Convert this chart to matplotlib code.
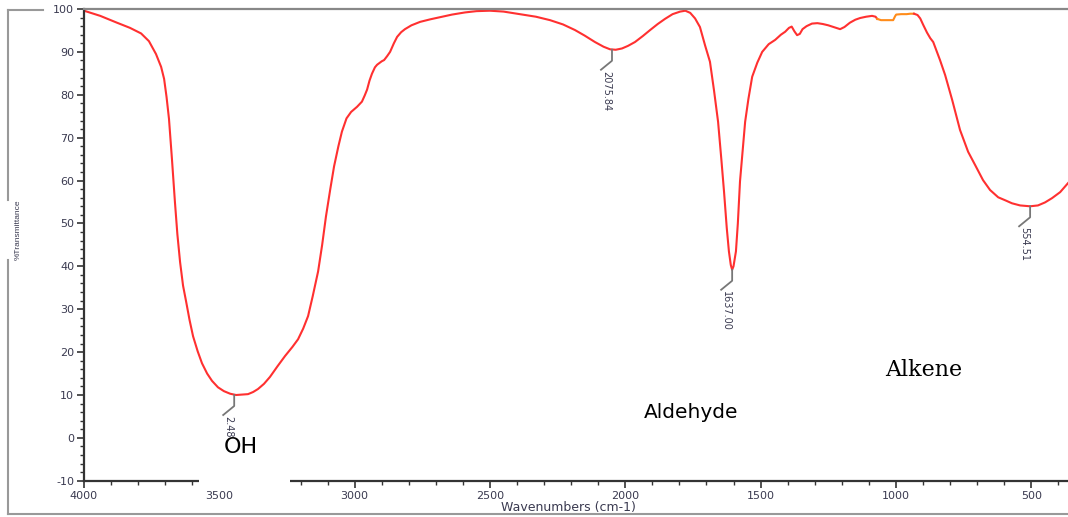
import numpy as np
import matplotlib.pyplot as plt
from matplotlib.patches import Rectangle
from matplotlib.lines import Line2D

plt.rcParams['axes.unicode_minus'] = False

# spectrum (wavenumber, %T)
wn = [4000, 3940, 3878, 3830, 3789, 3760, 3734, 3715, 3704, 3695, 3686, 3675, 3664, 3655,
      3645, 3634, 3623, 3610, 3597, 3580, 3564, 3545, 3527, 3505, 3483, 3460, 3438, 3415,
      3394, 3375, 3357, 3335, 3313, 3285, 3257, 3230, 3209, 3190, 3172, 3155, 3135, 3120,
      3106, 3090, 3076, 3060, 3047, 3030, 3013, 2991, 2973, 2963, 2954, 2945, 2936, 2925,
      2917, 2900, 2891, 2880, 2869, 2855, 2843, 2828, 2814, 2790, 2758, 2720, 2684, 2640,
      2592, 2550, 2500, 2450, 2389, 2330, 2278, 2230, 2186, 2150, 2112, 2080, 2056, 2035,
      2012, 1990, 1964, 1935, 1908, 1880, 1853, 1825, 1797, 1778, 1760, 1742, 1724, 1705,
      1687, 1672, 1657, 1645, 1635, 1625, 1617, 1610, 1605, 1600, 1595, 1591, 1584, 1576,
      1566, 1557, 1545, 1531, 1512, 1494, 1470, 1446, 1425, 1409, 1395, 1385, 1375, 1365,
      1355, 1345, 1330, 1310, 1290, 1270, 1250, 1225, 1206, 1190, 1170, 1150, 1132, 1110,
      1088, 1075, 1069]
trans = [99.6, 98.4, 96.8, 95.6, 94.3, 92.5, 89.5, 86.5, 83.7, 79.5, 74.4, 65, 55, 47.5,
         41, 35.5, 31.9, 27.5, 23.7, 20.2, 17.4, 15.0, 13.3, 11.8, 10.9, 10.3, 10.0, 10.1,
         10.2, 10.7, 11.4, 12.6, 14.2, 16.7, 19.1, 21.2, 23, 25.5, 28.4, 33, 38.8, 45,
         51.6, 58, 63.3, 68, 71.4, 74.5, 76, 77.2, 78.4, 79.8, 81.2, 83.3, 84.9, 86.4,
         87, 87.8, 88.1, 89, 90, 92, 93.5, 94.6, 95.3, 96.2, 97, 97.6, 98.1, 98.7,
         99.2, 99.5, 99.6, 99.4, 98.8, 98.2, 97.4, 96.4, 95.1, 93.8, 92.3, 91.2, 90.6, 90.5,
         90.8, 91.4, 92.3, 93.7, 95.1, 96.5, 97.7, 98.8, 99.4, 99.6, 99.1, 97.8, 95.8, 91.5,
         87.7, 81, 73.7, 65, 57.4, 49, 43.5, 40.3, 39.2, 40, 42, 43.5, 50, 59.8,
         67, 73.7, 79, 84.2, 87.5, 90, 91.8, 92.8, 94, 94.7, 95.6, 95.9, 94.8, 93.9,
         94.2, 95.3, 96, 96.6, 96.7, 96.5, 96.2, 95.7, 95.3, 95.8, 96.8, 97.5, 97.9, 98.2,
         98.4, 98.2, 97.7]

# short orange stretch
wn_o = [1069, 1055, 1040, 1020, 1010, 1003, 999, 980, 960, 947, 933]
trans_o = [97.7, 97.4, 97.4, 97.4, 97.4, 98.3, 98.7, 98.8, 98.8, 98.9, 98.9]

wn_r = [933, 920, 910, 899, 885, 873, 862, 837, 818, 792, 763, 733, 707, 678, 652, 622,
        596, 571, 541, 504, 475, 449, 423, 393, 364]
trans_r = [98.9, 98.6, 97.8, 96.3, 94.5, 93.2, 92.3, 88.1, 84.6, 78.8, 71.8, 66.7, 63.6,
           60.1, 57.8, 56.1, 55.4, 54.7, 54.2, 54.0, 54.2, 54.9, 55.9, 57.3, 59.4]

peak_x = [3445, 2049, 1605, 504]
peak_y = [10.0, 90.5, 39.2, 54.0]
peak_lab = ['2.48', '2075.84', '1637.00', '554.51']

W, H = 1068, 517
fig = plt.figure(figsize=(W / 100, H / 100), dpi=100)
ax = fig.add_axes([84 / W, 1 - 481 / H, 1 - 84 / W, (481 - 9) / H])

red = '#ff3030'
ax.plot(wn, trans, color=red, lw=1.5)
ax.plot(wn_o, trans_o, color='#ff8c1a', lw=1.5)
ax.plot(wn_r, trans_r, color=red, lw=1.5)

ax.set_xlim(4000, 364)
ax.set_ylim(-10.05, 100)
ax.set_xticks(np.arange(4000, 499, -500))
ax.set_xticks(np.arange(4000, 364, -100), minor=True)
ax.set_yticks(np.arange(-10, 101, 10))
ax.set_yticks(np.arange(-10, 101, 2), minor=True)

tick_col = '#3a3a50'
ax.tick_params(axis='both', which='major', length=5, width=1.2, color='#333333',
               labelsize=8, labelcolor=tick_col, pad=2)
ax.tick_params(axis='both', which='minor', length=3, width=1, color='#333333')
for lab in ax.get_xticklabels() + ax.get_yticklabels():
    lab.set_family('DejaVu Sans')

ax.spines['right'].set_visible(False)
ax.spines['top'].set_color('#888888')
ax.spines['top'].set_linewidth(1.6)
ax.spines['left'].set_color('#333333')
ax.spines['left'].set_linewidth(1.6)
ax.spines['bottom'].set_color('#333333')
ax.spines['bottom'].set_linewidth(1.6)

# peak markers
for x, y, lab in zip(peak_x, peak_y, peak_lab):
    px, py = ax.transData.transform((x, y))
    ax.add_line(Line2D([px, px, px - 11], [py, py - 11, py - 20], transform=None,
                       color='#777777', lw=1.3, clip_on=False))
    ax.annotate(lab, xy=(x, y), xytext=(-6, -21), textcoords='offset pixels',
                rotation=-90, ha='center', va='top', fontsize=7, color=tick_col,
                family='DejaVu Sans')

ax.text(3420, -2.1, 'OH', fontsize=16, ha='center', va='center', family='DejaVu Sans')
ax.text(1755, 6.0, 'Aldehyde', fontsize=14.5, ha='center', va='center', family='DejaVu Sans')
ax.text(896, 15.8, 'Alkene', fontsize=16, ha='center', va='center', family='DejaVu Serif')

# white text-box covering part of the x axis
fig.add_artist(Rectangle((199 / W, 1 - 488 / H), 91 / W, 18 / H, transform=fig.transFigure,
                         facecolor='white', edgecolor='none', zorder=5))

# outer frame of the printout
frame = '#999999'
fig.add_artist(Line2D([8 / W, 8 / W], [1 - 10 / H, 1 - 200 / H], color=frame, lw=1.5))
fig.add_artist(Line2D([8 / W, 8 / W], [1 - 260 / H, 1 - 514 / H], color=frame, lw=1.5))
fig.add_artist(Line2D([8 / W, 1], [1 - 514 / H, 1 - 514 / H], color=frame, lw=1.5))
fig.add_artist(Line2D([8 / W, 43 / W], [1 - 10 / H, 1 - 10 / H], color=frame, lw=1.5))

fig.text(568 / W, 1 - 508 / H, 'Wavenumbers (cm-1)', ha='center', va='center',
         fontsize=9, color=tick_col, family='DejaVu Sans')
fig.text(18 / W, 1 - 230 / H, '%Transmittance', ha='center', va='center', rotation=90,
         fontsize=6, color=tick_col, family='Liberation Sans')

fig.savefig('out.png', dpi=100)
